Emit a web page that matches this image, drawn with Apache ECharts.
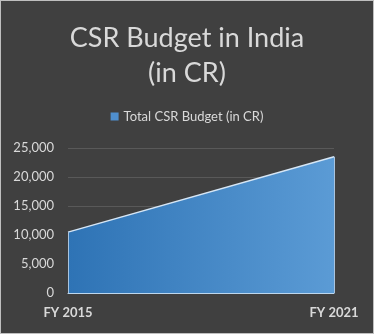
<!DOCTYPE html>
<html>
<head>
<meta charset="utf-8">
<script src="https://cdn.jsdelivr.net/npm/echarts@6/dist/echarts.min.js"></script>
<style>
  html, body { margin: 0; padding: 0; background: #ffffff; }
  #frame { position: absolute; left: 0; top: 0; width: 372px; height: 332px; border: 1px solid #bfbfbf; background: #404040; }
  #chart { width: 372px; height: 332px; }
</style>
</head>
<body>
<div id="frame"><div id="chart"></div></div>
<script>
// Fiscal years and total CSR spend (crore)
const categories = ['FY 2015', 'FY 2021'];
const budget = [10500, 23500];
const seriesName = 'Total CSR Budget (in CR)';
const titleText = 'CSR Budget in India\n(in CR)';

const font = 'Lato, "Open Sans", sans-serif';
const chart = echarts.init(document.getElementById('chart'), null, { renderer: 'canvas' });

chart.setOption({
  backgroundColor: '#404040',
  animation: false,
  title: {
    text: titleText,
    left: 'center',
    top: 15,
    textStyle: { color: '#d9d9d9', fontFamily: font, fontSize: 27, fontWeight: 'normal', lineHeight: 35 }
  },
  legend: {
    data: [seriesName],
    top: 104,
    left: 'center',
    icon: 'rect',
    itemWidth: 8,
    itemHeight: 8,
    itemGap: 4,
    textStyle: { color: '#d9d9d9', fontFamily: font, fontSize: 13 }
  },
  grid: { left: 67, right: 39, top: 147, bottom: 40, containLabel: false },
  xAxis: {
    type: 'category',
    data: categories,
    boundaryGap: false,
    axisLine: { show: true, lineStyle: { color: '#bdd7ee', width: 1 } },
    axisTick: { show: false },
    axisLabel: { color: '#d9d9d9', fontFamily: font, fontSize: 13, fontWeight: 'bold', margin: 13 },
    splitLine: { show: false }
  },
  yAxis: {
    type: 'value',
    min: 0,
    max: 25000,
    interval: 5000,
    axisLine: { show: false },
    axisTick: { show: false },
    axisLabel: {
      color: '#d9d9d9', fontFamily: font, fontSize: 13, margin: 14,
      formatter: v => v.toLocaleString('en-US')
    },
    splitLine: { lineStyle: { color: '#595959', width: 1 } }
  },
  series: [{
    name: seriesName,
    type: 'line',
    data: budget,
    symbol: 'none',
    lineStyle: { color: '#d6e6f5', width: 1.5 },
    itemStyle: { color: '#4f8fce' },
    areaStyle: {
      opacity: 1,
      color: new echarts.graphic.LinearGradient(0, 0, 1, 0, [
        { offset: 0, color: '#2e73b5' },
        { offset: 1, color: '#5b9bd5' }
      ])
    },
    markLine: {
      silent: true,
      symbol: 'none',
      label: { show: false },
      lineStyle: { color: '#a9c4df', width: 1, type: 'solid' },
      data: categories.map((c, i) => [
        { coord: [c, 0] },
        { coord: [c, budget[i]] }
      ])
    }
  }]
});
</script>
</body>
</html>
